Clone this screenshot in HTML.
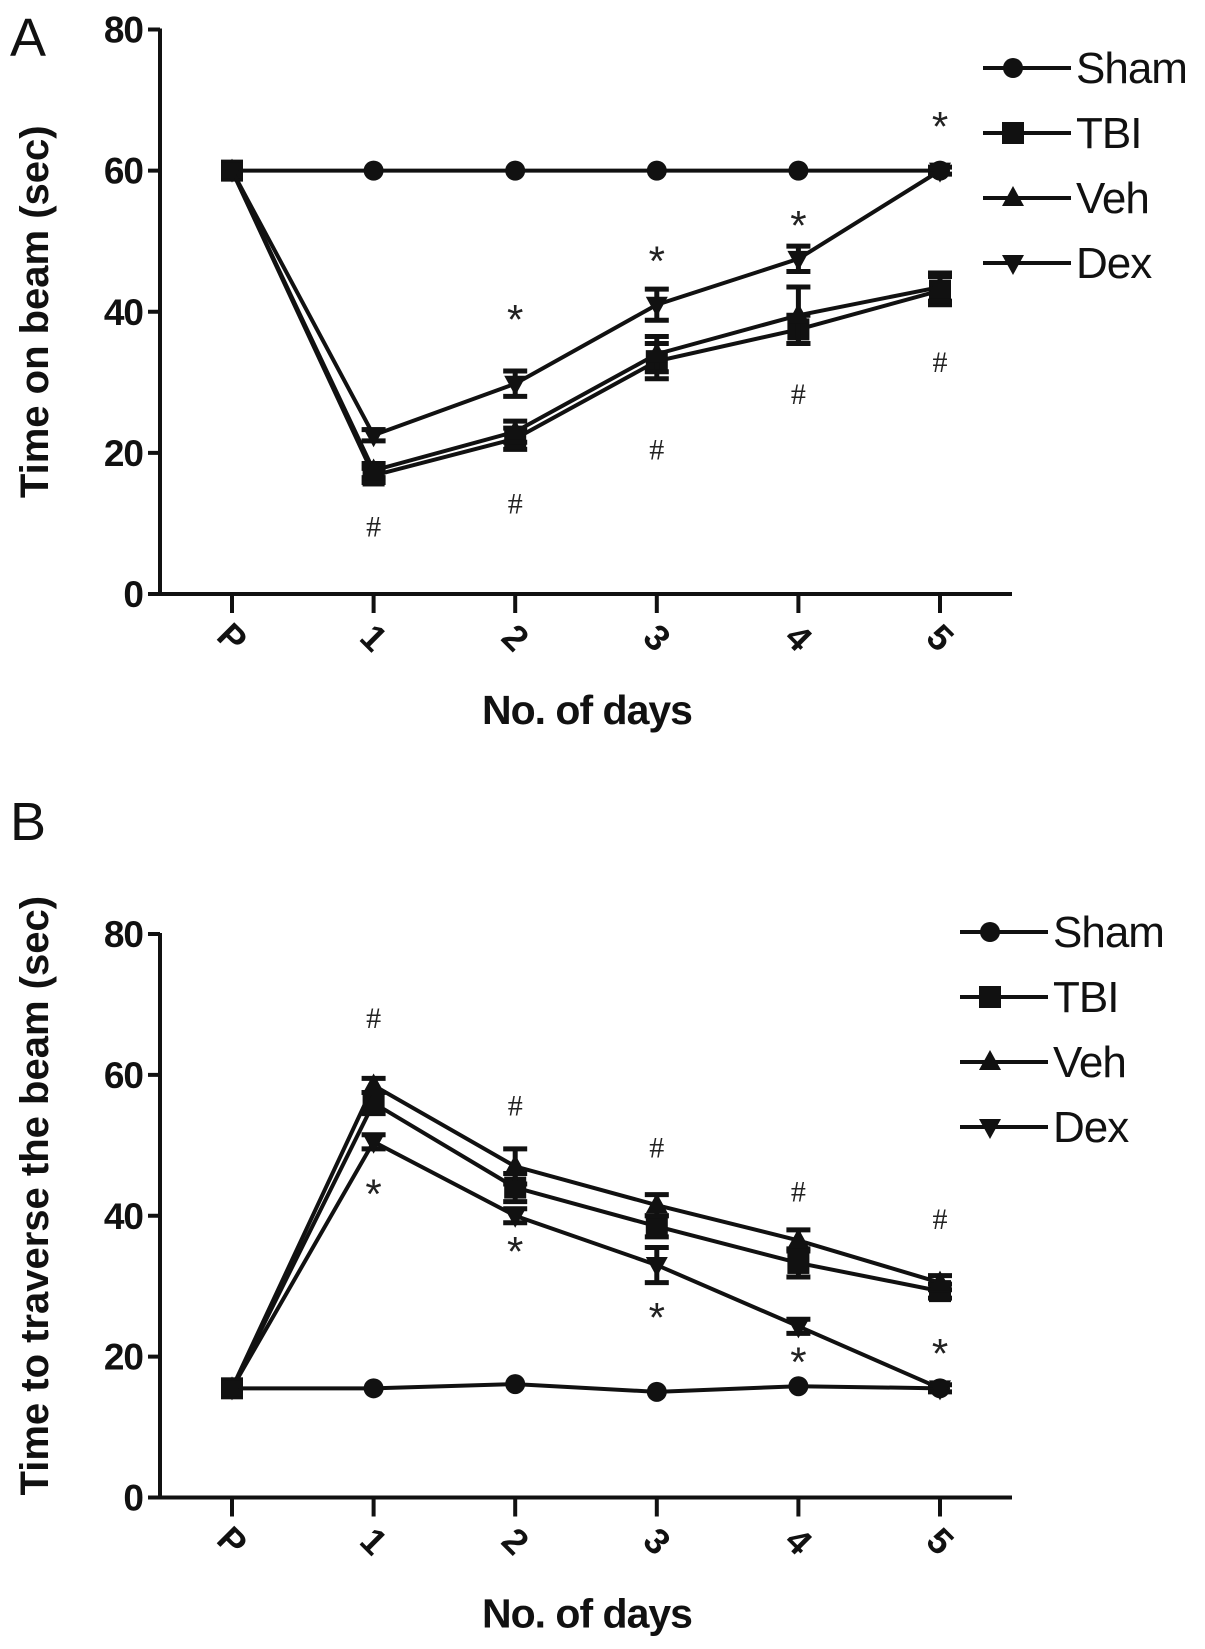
<!DOCTYPE html>
<html><head><meta charset="utf-8"><style>
html,body{margin:0;padding:0;background:#fff;}
svg{display:block;font-family:"Liberation Sans",Arial,sans-serif;}
</style></head><body>
<svg id="fig" width="1205" height="1649" viewBox="0 0 1205 1649" xmlns="http://www.w3.org/2000/svg"></svg>
<script>
const days = ["P","1","2","3","4","5"];
const seriesNames = ["Sham","TBI","Veh","Dex"];
const markers = ["circle","square","triangle","invtriangle"];
const yTicks = [0,20,40,60,80];
// Panel A: time on beam
const aSham = [60,60,60,60,60,60];
const aTBI = [60,16.8,22,33,37.5,43];
const aVeh = [60,17.5,23,34,39.5,43.5];
const aDex = [60,22.5,29.8,41,47.5,60];
const aTBIerr = [0,1,1.5,2.5,2,2];
const aVehErr = [0,1,1.5,2.5,4,2];
const aDexErr = [0,0.8,1.8,2.2,1.8,0.5];
const aStarIdx = [2,3,4,5];
const aStarVal = [39.7,48,53,67];
const aHashIdx = [1,2,3,4,5];
const aHashVal = [9.7,13,20.6,28.5,33];
// Panel B: time to traverse
const bSham = [15.5,15.5,16.1,15,15.8,15.5];
const bTBI = [15.5,56,44,38.5,33.3,29.3];
const bVeh = [15.5,58.5,47,41.5,36.5,30.5];
const bDex = [15.5,50.5,40,33,24.3,15.5];
const bTBIerr = [0,1.5,2,1.5,2,1];
const bVehErr = [0,1,2.5,1.5,1.5,1];
const bDexErr = [0,1,1,2.5,1,0.5];
const bHashIdx = [1,2,3,4,5];
const bHashVal = [68.2,55.8,49.8,43.6,39.7];
const bStarIdx = [1,2,3,4,5];
const bStarVal = [43.9,35.7,26.3,20,21.2];

const NS="http://www.w3.org/2000/svg";
const svg=document.getElementById('fig');
function mk(tag,attrs,parent){const e=document.createElementNS(NS,tag);for(const k in attrs)e.setAttribute(k,attrs[k]);(parent||svg).appendChild(e);return e;}
const xPos=[232,373,515,656,798,940];
function xs(i){return xPos[0]+(xPos[5]-xPos[0])*i/5;}

function marker(g,type,x,y){
  let e;
  if(type==="circle"){e=mk('circle',{cx:x,cy:y,r:10,fill:'#111'},g);}
  else if(type==="square"){e=mk('rect',{x:x-11,y:y-11,width:22,height:22,fill:'#111'},g);}
  else if(type==="triangle"){e=mk('polygon',{points:`${x},${y-12} ${x+11},${y+8} ${x-11},${y+8}`,fill:'#111'},g);}
  else {e=mk('polygon',{points:`${x},${y+12} ${x+11},${y-8} ${x-11},${y-8}`,fill:'#111'},g);}
  return e;
}

function panel(id,top0,top80,letter,letterY,ytitle,series,errs,stars,hashes,legX,legY){
  const ys=v=>top0+(top80-top0)*v/80;
  const g=mk('g',{});
  
  
  const L=mk('text',{x:10,y:letterY,'font-size':54,fill:'#111',transform:`scale(1 1)`},g);L.textContent=letter;
  
  
  const ya=mk('line',{x1:160,y1:top80-1,x2:160,y2:top0,stroke:'#111','stroke-width':4},g);
  
  
  const xa=mk('line',{x1:158,y1:top0,x2:1012,y2:top0,stroke:'#111','stroke-width':4},g);
  
  
  yTicks.forEach(t=>{
    const y=ys(t);
    mk('line',{x1:148,y1:y,x2:160,y2:y,stroke:'#111','stroke-width':4},g);
    const tx=mk('text',{x:143,y:y+13,'font-size':37,'font-weight':'bold','text-anchor':'end',fill:'#111','letter-spacing':'-1'},g);
    tx.textContent=t;
    
    
  });
  days.forEach((d,i)=>{
    const x=xs(i);
    mk('line',{x1:x,y1:top0,x2:x,y2:top0+19,stroke:'#111','stroke-width':4},g);
    const tx=mk('text',{x:x,y:top0+56,'font-size':36,'font-weight':'bold','text-anchor':'middle',fill:'#111',transform:`rotate(45 ${x} ${top0+44})`},g);
    tx.textContent=d;
    
    
  });
  const xt=mk('text',{x:587,y:top0+130,'font-size':41,'font-weight':'bold','text-anchor':'middle',fill:'#111','letter-spacing':'-1'},g);
  xt.textContent='No. of days';
  
  
  const cy=(top0+top80)/2+(id==='a'?0:-20);
  const yt=mk('text',{x:0,y:0,'font-size':40,'font-weight':'bold','text-anchor':'middle',fill:'#111',transform:`translate(48 ${cy}) rotate(-90)`},g);
  yt.textContent=ytitle;
  
  
  series.forEach((vals,s)=>{
    const sg=mk('g',{},g);
    
    
    const pts=vals.map((v,i)=>`${xs(i)},${ys(v)}`).join(' ');
    mk('polyline',{points:pts,fill:'none',stroke:'#111','stroke-width':4},sg);
    const er=errs[s];
    vals.forEach((v,i)=>{
      if(er&&er[i]>0){
        const x=xs(i),y1=ys(v-er[i]),y2=ys(v+er[i]);
        mk('line',{x1:x,y1:y1,x2:x,y2:y2,stroke:'#111','stroke-width':5},sg);
        mk('line',{x1:x-12,y1:y1,x2:x+12,y2:y1,stroke:'#111','stroke-width':5},sg);
        mk('line',{x1:x-12,y1:y2,x2:x+12,y2:y2,stroke:'#111','stroke-width':5},sg);
      }
      const m=marker(sg,markers[s],xs(i),ys(v));
      
      
    });
  });
  stars[0].forEach((idx,k)=>{
    const t=mk('text',{x:xs(idx),y:ys(stars[1][k])+20,'font-size':42,'text-anchor':'middle',fill:'#222'},g);
    t.textContent='*';
    
    
  });
  hashes[0].forEach((idx,k)=>{
    const t=mk('text',{x:xs(idx),y:ys(hashes[1][k])+11,'font-size':30,'font-family':'Liberation Serif, serif','text-anchor':'middle',fill:'#222'},g);
    t.textContent='#';
    
    
  });
  seriesNames.forEach((n,s)=>{
    const y=legY+s*65;
    const lg=mk('g',{},g);
    
    
    mk('line',{x1:legX,y1:y,x2:legX+88,y2:y,stroke:'#111','stroke-width':4},lg);
    marker(lg,markers[s],legX+30,y);
    const t=mk('text',{x:legX+93,y:y+15,'font-size':44,fill:'#111','letter-spacing':'-1'},lg);
    t.textContent=n;
  });
}
panel('a',594,29.5,'A',56,'Time on beam (sec)',[aSham,aTBI,aVeh,aDex],[null,aTBIerr,aVehErr,aDexErr],[aStarIdx,aStarVal],[aHashIdx,aHashVal],983,68);
panel('b',1497.5,934,'B',840,'Time to traverse the beam (sec)',[bSham,bTBI,bVeh,bDex],[null,bTBIerr,bVehErr,bDexErr],[bStarIdx,bStarVal],[bHashIdx,bHashVal],960,932);
</script>
</body></html>
